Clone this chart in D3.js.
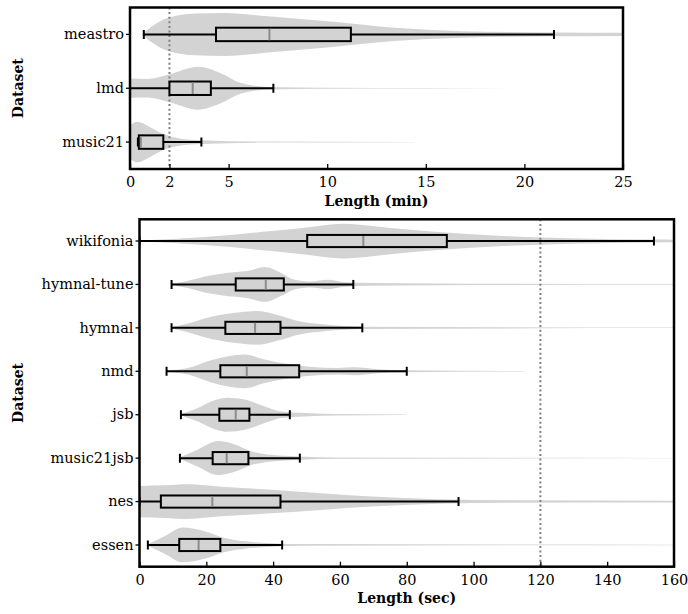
<!DOCTYPE html>
<html>
<head>
<meta charset="utf-8">
<script src="https://cdn.jsdelivr.net/npm/d3@7"></script>
<style>
  body { margin: 0; background: #fff; }
  text { font-family: "DejaVu Serif", serif; }
</style>
</head>
<body>
<div id="chart"></div>
<script>
// ---- data: minutes panel ----
const minCategories = ['meastro', 'lmd', 'music21'];
// [whisker low, q1, median, q3, whisker high]
const minStats = [
    [0.7, 4.36, 7.07, 11.2, 21.5],
    [0.0, 2.0, 3.18, 4.1, 7.27],
    [0.4, 0.45, 0.55, 1.69, 3.62]
];
// violin outlines: [value, relative density]
const minViolins = [
    [[0.6, 0.02], [1.0, 0.3], [1.93, 0.77], [3.28, 0.97], [4.8, 1], [7, 0.84], [10, 0.61], [13.4, 0.31], [16.8, 0.15], [21.5, 0.09], [25.5, 0.07]],
    [[-0.5, 0.47], [0.9, 0.43], [1.93, 0.63], [3.45, 1], [4.6, 0.7], [5.6, 0.25], [7, 0.06], [10, 0.02], [15, 0.008], [20, 0.003]],
    [[-0.5, 0.7], [0, 0.8], [0.35, 0.94], [1, 0.7], [1.7, 0.37], [2.5, 0.17], [3.6, 0.09], [6.7, 0.025], [14.4, 0.006]]
];
const minTicks = [0, 2, 5, 10, 15, 20, 25];

// ---- data: seconds panel ----
const secCategories = ['wikifonia', 'hymnal-tune', 'hymnal', 'nmd', 'jsb', 'music21jsb', 'nes', 'essen'];
const secStats = [
    [0, 50.2, 67, 92, 154],
    [9.6, 28.8, 37.8, 43.2, 64],
    [9.6, 25.7, 34.6, 42.2, 66.7],
    [8.1, 24.2, 32.1, 47.8, 80],
    [12.4, 23.9, 28.8, 32.9, 45],
    [12.1, 21.9, 26.1, 32.6, 48],
    [0, 6.4, 21.8, 42.2, 95.5],
    [2.5, 11.9, 17.7, 24.2, 42.7]
];
const secViolins = [
    [[0, 0.03], [19.5, 0.23], [39.5, 0.58], [49.5, 0.77], [61, 1], [74.4, 0.77], [89.4, 0.52], [109, 0.29], [129, 0.16], [154, 0.08], [162, 0.07]],
    [[9.5, 0.03], [14.5, 0.21], [19.5, 0.46], [25.5, 0.65], [32.5, 0.79], [37.5, 1], [42.5, 0.65], [46.5, 0.27], [51.4, 0.17], [56.4, 0.27], [61.4, 0.13], [69.4, 0.08], [89.4, 0.05], [160, 0.02]],
    [[9.5, 0.03], [14.5, 0.25], [21.5, 0.64], [29.5, 0.88], [35.5, 0.97], [41.5, 0.73], [47.5, 0.39], [55.4, 0.19], [67.4, 0.06], [160, 0.015]],
    [[8, 0.03], [14.5, 0.19], [21.5, 0.64], [31.5, 0.97], [37.5, 0.68], [43.5, 0.45], [51.4, 0.25], [59.4, 0.19], [64.4, 0.23], [71.4, 0.12], [79.4, 0.06], [115, 0.015]],
    [[12.5, 0.04], [17.5, 0.39], [22.5, 0.83], [26.5, 0.98], [31.5, 0.87], [37.5, 0.48], [42.5, 0.19], [49.4, 0.1], [59.4, 0.04], [80, 0.01]],
    [[12, 0.04], [17.5, 0.5], [23.5, 0.98], [28.5, 0.79], [33.5, 0.4], [39.5, 0.19], [47.5, 0.1], [59.4, 0.04], [160, 0.008]],
    [[-1, 0.9], [7.5, 0.94], [14.5, 1], [24.5, 0.85], [39.5, 0.68], [54.4, 0.48], [69.4, 0.29], [89.4, 0.13], [110, 0.07], [162, 0.05]],
    [[2.5, 0.04], [7.5, 0.5], [13, 1], [19.5, 0.79], [25.5, 0.4], [31.5, 0.21], [39.5, 0.1], [49.5, 0.05], [160, 0.012]]
];
const secTicks = [0, 20, 40, 60, 80, 100, 120, 140, 160];

const svg = d3.select('#chart').append('svg')
    .attr('width', 688)
    .attr('height', 614);

function drawPanel(opt) {
    const { id, left, top, right, bottom, domain, ticks, cats, stats, violins, refLine, xTitle, boxFrac } = opt;

    const x = d3.scaleLinear().domain(domain).range([left, right]);
    const y = d3.scaleBand().domain(cats).range([top, bottom]);
    const bw = y.bandwidth();
    const w = d3.scaleLinear().domain([0, 1]).range([0, bw * 0.4]);

    const g = svg.append('g');

    g.append('clipPath').attr('id', id)
        .append('rect')
        .attr('x', left).attr('y', top)
        .attr('width', right - left).attr('height', bottom - top);

    const plot = g.append('g').attr('clip-path', `url(#${id})`);

    // violins
    cats.forEach((c, i) => {
        const cy = y(c) + bw / 2;
        const area = d3.area()
            .x(d => x(d[0]))
            .y0(d => cy - w(d[1]))
            .y1(d => cy + w(d[1]))
            .curve(d3.curveMonotoneX);
        plot.append('path')
            .attr('d', area(violins[i]))
            .attr('fill', '#d3d3d3');
    });

    // reference line
    plot.append('line')
        .attr('x1', x(refLine)).attr('x2', x(refLine))
        .attr('y1', top).attr('y2', bottom)
        .attr('stroke', '#808080')
        .attr('stroke-width', 2)
        .attr('stroke-dasharray', '2,2.6');

    // boxes
    const bh = bw * boxFrac;
    cats.forEach((c, i) => {
        const cy = y(c) + bw / 2;
        const [lo, q1, med, q3, hi] = stats[i];
        const bx = plot.append('g');
        bx.append('line')
            .attr('x1', x(lo)).attr('x2', x(q1))
            .attr('y1', cy).attr('y2', cy)
            .attr('stroke', '#000').attr('stroke-width', 2);
        bx.append('line')
            .attr('x1', x(q3)).attr('x2', x(hi))
            .attr('y1', cy).attr('y2', cy)
            .attr('stroke', '#000').attr('stroke-width', 2);
        [lo, hi].forEach(v => {
            bx.append('line')
                .attr('x1', x(v)).attr('x2', x(v))
                .attr('y1', cy - 4.5).attr('y2', cy + 4.5)
                .attr('stroke', '#000').attr('stroke-width', 2);
        });
        bx.append('rect')
            .attr('x', x(q1)).attr('y', cy - bh / 2)
            .attr('width', x(q3) - x(q1)).attr('height', bh)
            .attr('fill', '#d3d3d3')
            .attr('stroke', '#000').attr('stroke-width', 2);
        bx.append('line')
            .attr('x1', x(med)).attr('x2', x(med))
            .attr('y1', cy - bh / 2 + 1).attr('y2', cy + bh / 2 - 1)
            .attr('stroke', '#8c8c8c').attr('stroke-width', 2);
    });

    // axes
    const xAxis = g.append('g')
        .attr('transform', `translate(0,${bottom})`)
        .call(d3.axisBottom(x).tickValues(ticks).tickSize(-5).tickPadding(8).tickFormat(d3.format('d')));
    const yAxis = g.append('g')
        .attr('transform', `translate(${left},0)`)
        .call(d3.axisLeft(y).tickSize(4).tickPadding(2));
    [xAxis, yAxis].forEach(a => {
        a.attr('font-family', '"DejaVu Serif", serif').attr('font-size', 14.5);
        a.select('.domain').remove();
        a.selectAll('.tick line').attr('stroke', '#000').attr('stroke-width', 1.3);
        a.selectAll('.tick text')
            .attr('fill', '#000')
            .style('font-family', '"DejaVu Serif", serif')
            .style('font-size', '14.5px');
    });

    // frame
    g.append('rect')
        .attr('x', left).attr('y', top)
        .attr('width', right - left).attr('height', bottom - top)
        .attr('fill', 'none')
        .attr('stroke', '#000')
        .attr('stroke-width', 2.5);

    // titles
    g.append('text')
        .attr('x', (left + right) / 2)
        .attr('y', bottom + 36.5)
        .attr('text-anchor', 'middle')
        .style('font-size', '14px')
        .style('font-weight', 'bold')
        .text(xTitle);

    g.append('text')
        .attr('transform', `translate(22.5,${(top + bottom) / 2}) rotate(-90)`)
        .attr('text-anchor', 'middle')
        .style('font-size', '14px')
        .style('font-weight', 'bold')
        .text('Dataset');
}

drawPanel({
    id: 'clipMin', left: 130, top: 7.5, right: 623, bottom: 169,
    domain: [0, 25], ticks: minTicks, cats: minCategories,
    stats: minStats, violins: minViolins, refLine: 2,
    xTitle: 'Length (min)', boxFrac: 0.25
});

drawPanel({
    id: 'clipSec', left: 139.5, top: 219.3, right: 674, bottom: 566.7,
    domain: [0, 160], ticks: secTicks, cats: secCategories,
    stats: secStats, violins: secViolins, refLine: 120,
    xTitle: 'Length (sec)', boxFrac: 0.28
});
</script>
</body>
</html>
